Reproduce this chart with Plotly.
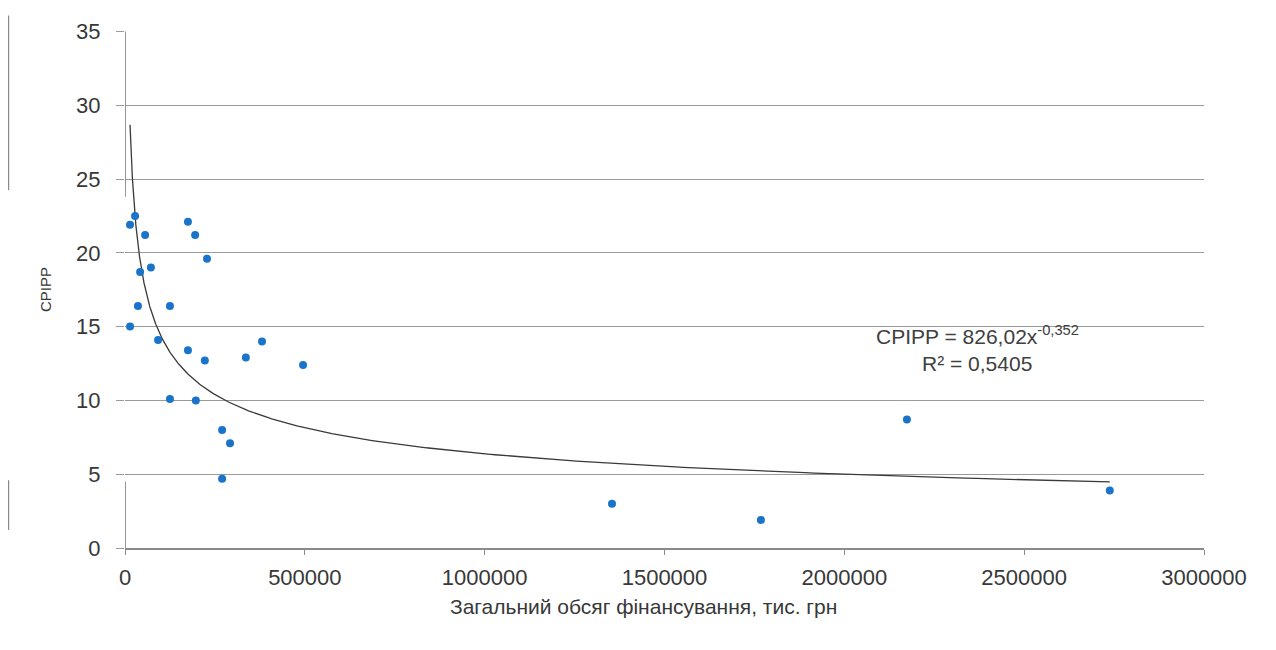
import numpy as np
import plotly.graph_objects as go

# Data (x: total financing, thousand UAH; y: CPIPP)
fin_x = [14000, 14000, 28000, 56000, 42000, 72000, 36000, 92000, 125000, 175000,
         195000, 228000, 175000, 222000, 125000, 197000, 336000, 381000, 495000,
         270000, 292000, 270000, 1354000, 1768000, 2174000, 2738000]
cpipp_y = [15.0, 21.9, 22.5, 21.2, 18.7, 19.0, 16.4, 14.1, 16.4, 22.1,
           21.2, 19.6, 13.4, 12.7, 10.1, 10.0, 12.9, 14.0, 12.4,
           8.0, 7.1, 4.7, 3.0, 1.9, 8.7, 3.9]

# Power trendline coefficients shown on the chart
coef_a = 826.02
coef_b = -0.352

x_ticks = [0, 500000, 1000000, 1500000, 2000000, 2500000, 3000000]
y_ticks = [0, 5, 10, 15, 20, 25, 30, 35]

trend_x = np.geomspace(min(fin_x), max(fin_x), 400)
trend_y = coef_a * trend_x ** coef_b

fig = go.Figure()
fig.add_trace(go.Scatter(x=trend_x, y=trend_y, mode="lines",
                         line=dict(color="#3a3a3a", width=1.3), hoverinfo="skip",
                         showlegend=False))
fig.add_trace(go.Scatter(x=fin_x, y=cpipp_y, mode="markers",
                         marker=dict(color="#1a74c9", size=8), showlegend=False))

font_fam = "Liberation Sans, Arial, sans-serif"
txt_col = "#383838"
fig.update_layout(
    width=1276, height=650,
    margin=dict(l=117, r=80, t=23, b=110),
    paper_bgcolor="white", plot_bgcolor="white",
    font=dict(family=font_fam, color=txt_col, size=21),
    xaxis=dict(range=[0, 3000000], tickvals=x_ticks,
               ticktext=[str(v) for v in x_ticks],
               showgrid=False, zeroline=False,
               showline=True, linecolor="#8a8a8a", linewidth=1.5,
               ticks="outside", ticklen=5, tickcolor="#8a8a8a",
               ticklabelstandoff=4,
               tickfont=dict(size=22, color=txt_col)),
    yaxis=dict(range=[0, 35.03], tickvals=y_ticks,
               showgrid=True, gridcolor="#999999", gridwidth=1.2,
               zeroline=False, showline=False,
               ticks="outside", ticklen=8, tickcolor="#999999",
               ticklabelstandoff=11,
               tickfont=dict(size=22, color=txt_col),
               title=dict(text="CPIPP", font=dict(size=15, color=txt_col),
                          standoff=20)),
    shapes=[
        dict(type="line", xref="x", yref="y", x0=0, x1=0, y0=35, y1=23.8,
             line=dict(color="#8a8a8a", width=1.8)),
        dict(type="line", xref="x", yref="y", x0=0, x1=0, y0=4.5, y1=0,
             line=dict(color="#8a8a8a", width=1.8)),
        dict(type="line", xref="paper", yref="paper", x0=-0.108, x1=-0.108,
             y0=1.03, y1=0.692, line=dict(color="#8a8a8a", width=1.5)),
        dict(type="line", xref="paper", yref="paper", x0=-0.108, x1=-0.108,
             y0=0.131, y1=0.035, line=dict(color="#8a8a8a", width=1.5)),
    ],
    annotations=[
        dict(x=2369000, y=14.45, xref="x", yref="y",
             text="CPIPP = 826,02x<sup>-0,352</sup>", showarrow=False,
             font=dict(size=21, color="#404040", family=font_fam)),
        dict(x=2369000, y=12.5, xref="x", yref="y",
             text="R² = 0,5405", showarrow=False,
             font=dict(size=21, color="#404040", family=font_fam)),
        dict(x=0.4805, y=-0.114, xref="paper", yref="paper",
             xanchor="center", yanchor="middle",
             text="Загальний обсяг фінансування, тис. грн", showarrow=False,
             font=dict(size=21, color=txt_col, family=font_fam)),
    ],
)

fig.write_html("out.html")
